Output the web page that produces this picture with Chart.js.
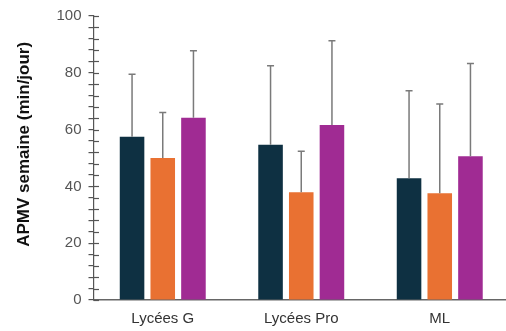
<!DOCTYPE html>
<html>
<head>
<meta charset="utf-8">
<script src="https://cdn.jsdelivr.net/npm/chart.js@4/dist/chart.umd.min.js"></script>
<style>
  html, body { margin: 0; padding: 0; background: #fff; overflow: hidden; }
  #wrap { position: relative; width: 510px; height: 331px; }
</style>
</head>
<body>
<div id="wrap"><canvas id="c" width="510" height="331"></canvas></div>
<script>
// Categories and series (mean minutes per day, with standard deviation)
const categories = ['Lycées G', 'Lycées Pro', 'ML'];
const serie1 = [57.5, 54.7, 42.9];
const serie2 = [50.0, 37.9, 37.6];
const serie3 = [64.2, 61.6, 50.6];
const sd1 = [22.0, 27.8, 30.8];
const sd2 = [16.0, 14.5, 31.4];
const sd3 = [23.6, 29.7, 32.7];
const yTicks = [0, 20, 40, 60, 80, 100];
const yTitle = 'APMV semaine (min/jour)';

const colors = ['#0E3042', '#E97132', '#A02B93'];
const FONT = 'Liberation Sans, Arial, sans-serif';

// Upward error bars with a small cap, drawn over the bars
const errorBars = {
  id: 'errorBars',
  afterDatasetsDraw(chart) {
    const ctx = chart.ctx;
    const y = chart.scales.y;
    ctx.save();
    ctx.strokeStyle = '#7a7a7a';
    ctx.lineWidth = 1.5;
    chart.data.datasets.forEach((ds, i) => {
      const meta = chart.getDatasetMeta(i);
      meta.data.forEach((bar, j) => {
        const top = y.getPixelForValue(ds.data[j] + ds.sd[j]);
        ctx.beginPath();
        ctx.moveTo(bar.x, bar.y);
        ctx.lineTo(bar.x, top);
        ctx.moveTo(bar.x - 3.5, top);
        ctx.lineTo(bar.x + 3.5, top);
        ctx.stroke();
      });
    });
    ctx.restore();
  }
};

// Inner half of the y tick marks so they cross the axis line,
// plus the rotated y axis title sitting a little above the axis middle
const axisExtras = {
  id: 'axisExtras',
  afterDraw(chart) {
    const ctx = chart.ctx;
    const y = chart.scales.y;
    const x0 = chart.chartArea.left;
    ctx.save();
    ctx.strokeStyle = '#555';
    ctx.lineWidth = 1.2;
    y.ticks.forEach(t => {
      const py = Math.round(y.getPixelForValue(t.value)) + 0.5;
      ctx.beginPath();
      ctx.moveTo(x0, py);
      ctx.lineTo(x0 + 5.5, py);
      ctx.stroke();
    });
    ctx.translate(y.left + 24, y.getPixelForValue(54.8));
    ctx.rotate(-Math.PI / 2);
    ctx.fillStyle = '#111';
    ctx.font = 'bold 17px ' + FONT;
    ctx.textAlign = 'center';
    ctx.textBaseline = 'middle';
    ctx.fillText(yTitle, 0, 0);
    ctx.restore();
  }
};

new Chart(document.getElementById('c'), {
  type: 'bar',
  data: {
    labels: categories,
    datasets: [
      { label: 'Série 1', data: serie1, sd: sd1, backgroundColor: colors[0] },
      { label: 'Série 2', data: serie2, sd: sd2, backgroundColor: colors[1] },
      { label: 'Série 3', data: serie3, sd: sd3, backgroundColor: colors[2] }
    ]
  },
  options: {
    responsive: false,
    animation: false,
    layout: { padding: { top: 16, right: 1, left: 0, bottom: 0 } },
    datasets: { bar: { categoryPercentage: 0.665, barPercentage: 0.8 } },
    plugins: { legend: { display: false }, tooltip: { enabled: false } },
    scales: {
      x: {
        grid: { display: false, drawTicks: false },
        border: { display: true, color: '#666', width: 1.5 },
        ticks: { color: '#333', font: { family: FONT, size: 15 }, padding: 10 },
        afterFit(s) { s.height = 31; }
      },
      y: {
        min: 0, max: 100,
        grid: { drawOnChartArea: false, drawTicks: true, tickLength: 5, color: '#555', lineWidth: 1.2 },
        border: { display: true, color: '#555', width: 1.2 },
        ticks: {
          stepSize: 4, autoSkip: false,
          color: '#555',
          font: { family: FONT, size: 15 },
          padding: 7,
          callback: v => (yTicks.includes(v) ? String(v) : '')
        },
        title: { display: false },
        afterFit(s) { s.width = 93.5; }
      }
    }
  },
  plugins: [errorBars, axisExtras]
});
</script>
</body>
</html>
